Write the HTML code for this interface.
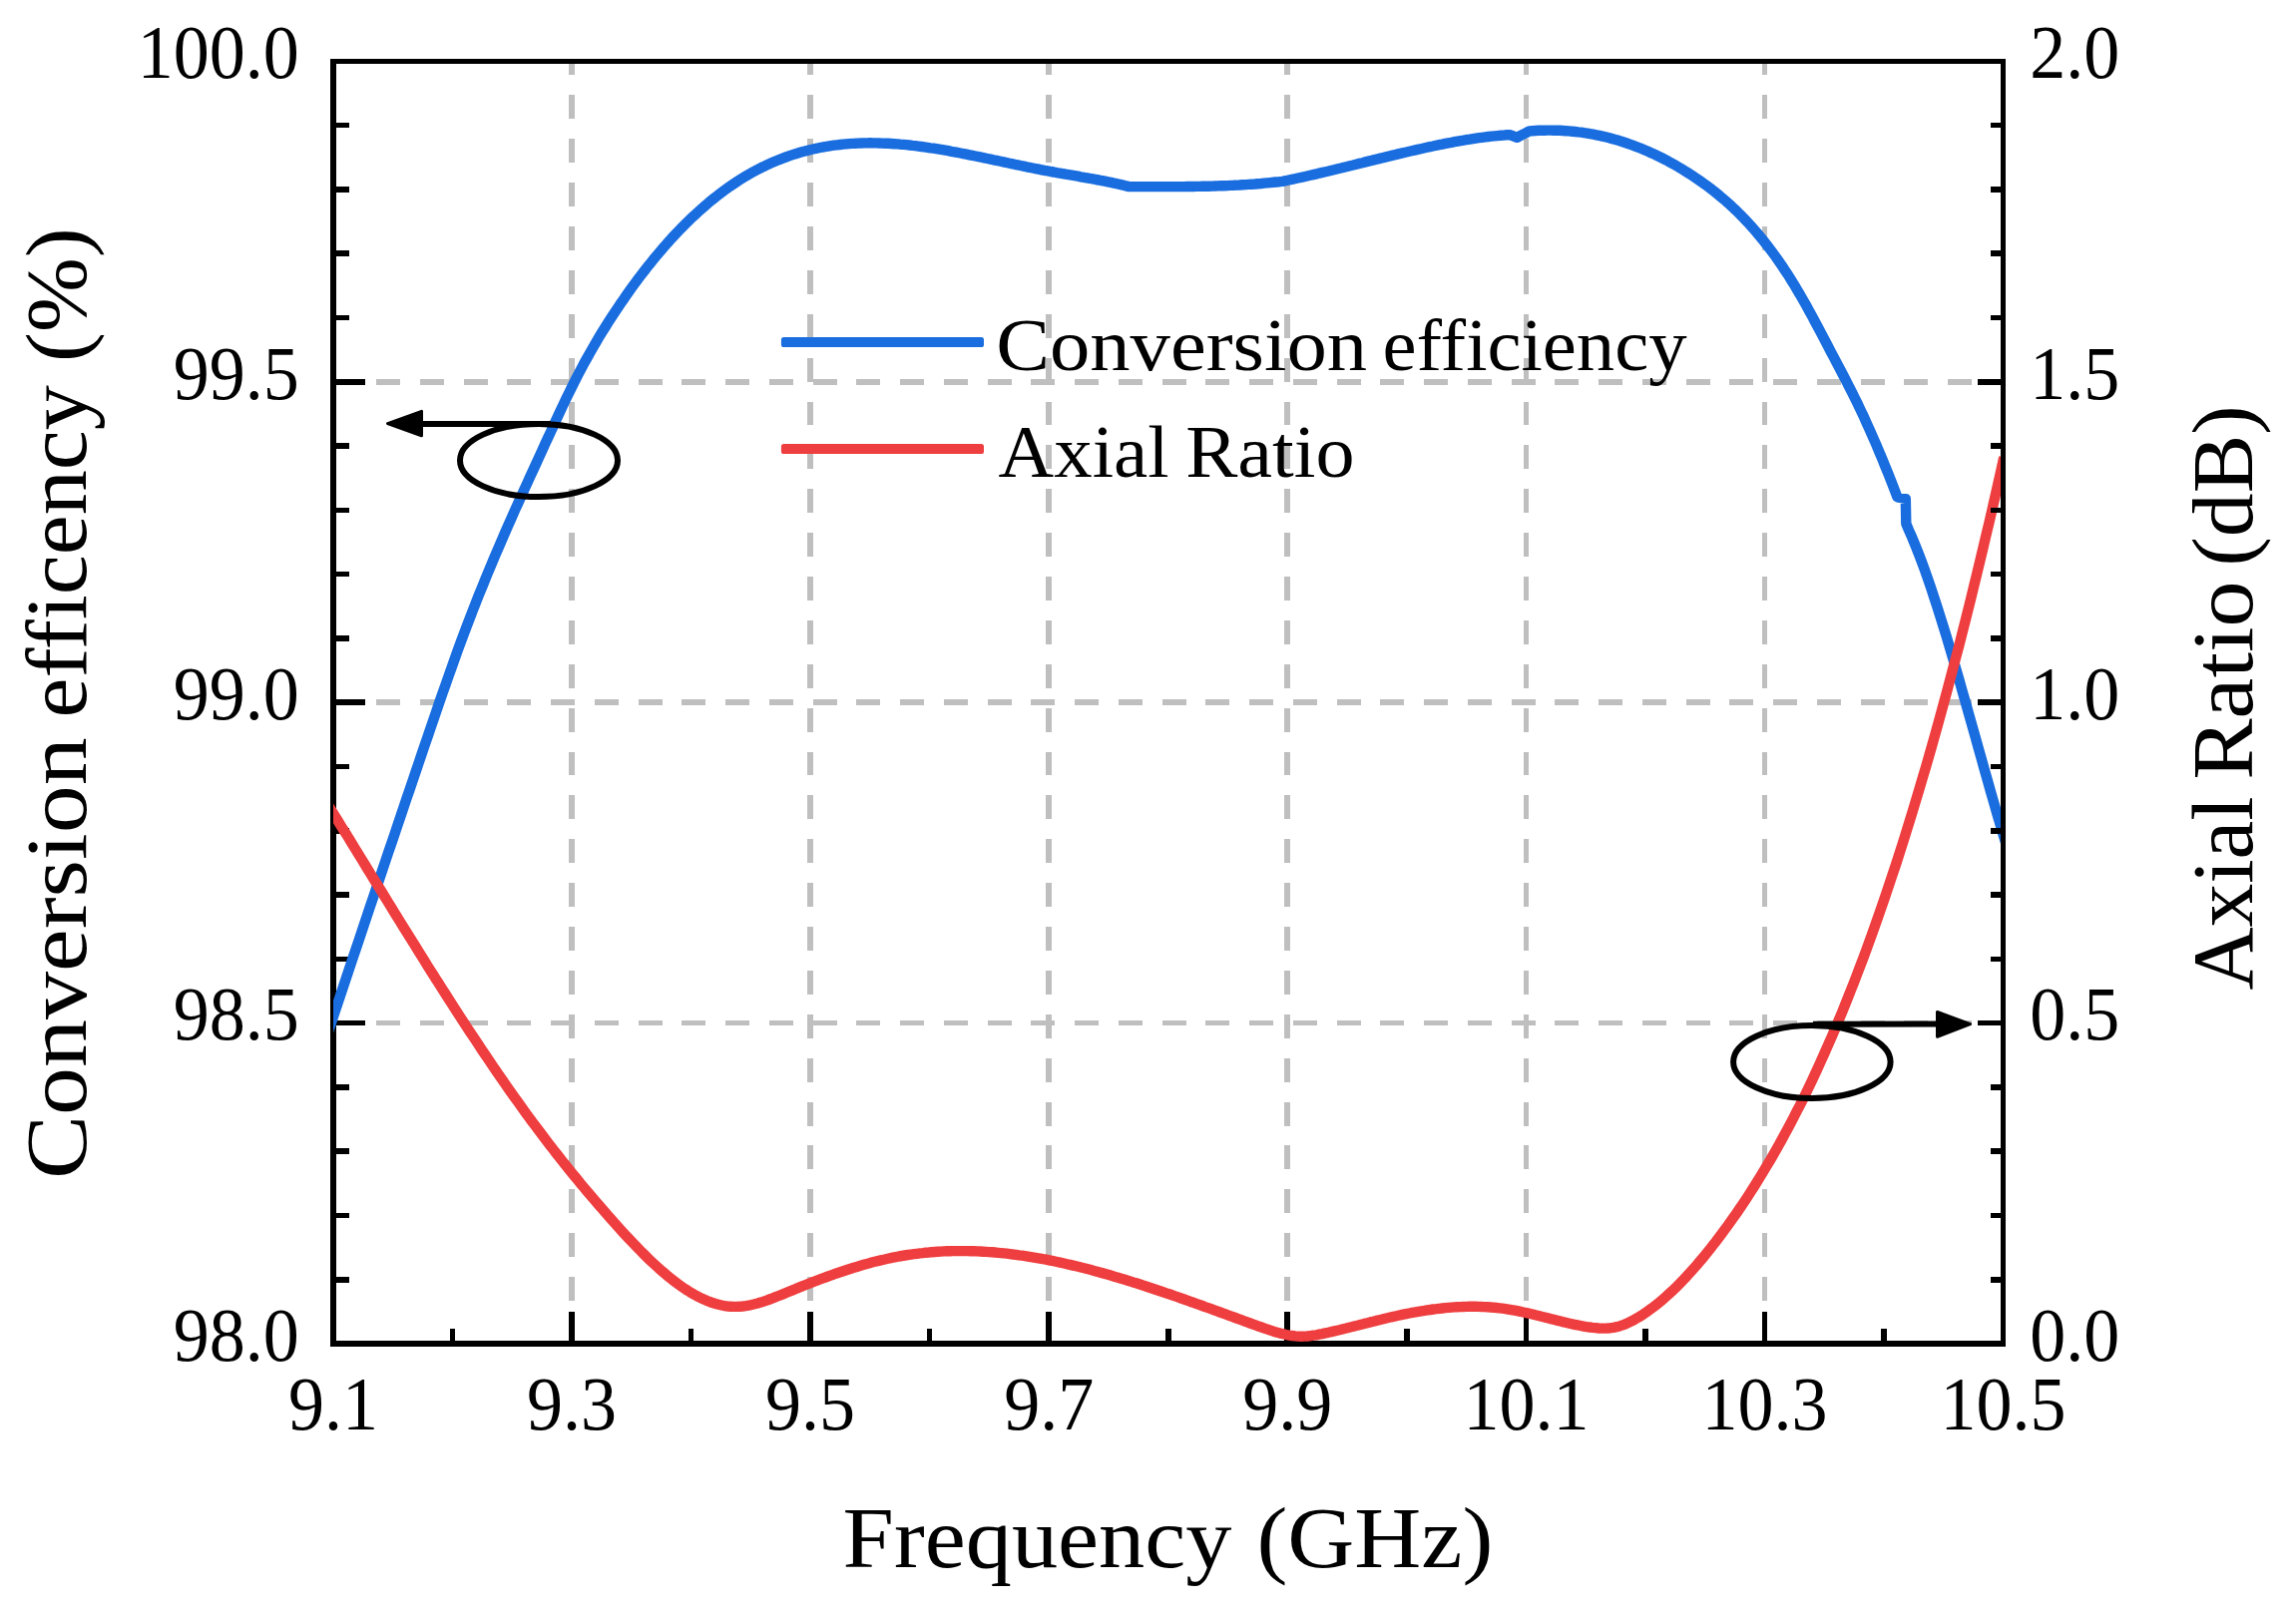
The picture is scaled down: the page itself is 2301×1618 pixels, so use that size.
<!DOCTYPE html>
<html lang="en"><head><meta charset="utf-8"><title>Conversion efficiency and Axial Ratio vs Frequency</title>
<style>html,body{margin:0;padding:0;background:#fff;}body{width:2301px;height:1618px;overflow:hidden;}svg{display:block;}</style>
</head><body>
<svg xmlns="http://www.w3.org/2000/svg" width="2301" height="1618" viewBox="0 0 2301 1618">
<rect width="2301" height="1618" fill="#fff"/>
<defs>
<clipPath id="cpB"><rect x="334.0" y="0" width="1671.0" height="1618"/></clipPath>
<clipPath id="cpR"><rect x="334.0" y="0" width="1671.2" height="1345.3"/></clipPath>
</defs>
<g stroke="#bfbfbf" stroke-width="5.6" fill="none" stroke-dasharray="23.9 19.98" shape-rendering="crispEdges">
<line x1="573.07" y1="1347.9" x2="573.07" y2="61.4"/>
<line x1="812.14" y1="1347.9" x2="812.14" y2="61.4"/>
<line x1="1051.21" y1="1347.9" x2="1051.21" y2="61.4"/>
<line x1="1290.29" y1="1347.9" x2="1290.29" y2="61.4"/>
<line x1="1529.36" y1="1347.9" x2="1529.36" y2="61.4"/>
<line x1="1768.43" y1="1347.9" x2="1768.43" y2="61.4"/>
<line x1="333.25" y1="1025.60" x2="1982" y2="1025.60" stroke-dasharray="24 19.75"/>
<line x1="333.25" y1="704.20" x2="1982" y2="704.20" stroke-dasharray="24 19.75"/>
<line x1="333.25" y1="382.80" x2="1982" y2="382.80" stroke-dasharray="24 19.75"/>
</g>
<g stroke="#000" stroke-width="5.6" fill="none" shape-rendering="crispEdges">
<path d="M334.0,1349.8 V58.800000000000004"/>
<path d="M331.0,61.4 H2010.3"/>
<path d="M331.0,1347.0 H2010.3"/>
<line x1="334.0" y1="1282.72" x2="350" y2="1282.72"/>
<line x1="334.0" y1="1218.44" x2="350" y2="1218.44"/>
<line x1="334.0" y1="1154.16" x2="350" y2="1154.16"/>
<line x1="334.0" y1="1089.88" x2="350" y2="1089.88"/>
<line x1="334.0" y1="1025.60" x2="366" y2="1025.60"/>
<line x1="334.0" y1="961.32" x2="350" y2="961.32"/>
<line x1="334.0" y1="897.04" x2="350" y2="897.04"/>
<line x1="334.0" y1="832.76" x2="350" y2="832.76"/>
<line x1="334.0" y1="768.48" x2="350" y2="768.48"/>
<line x1="334.0" y1="704.20" x2="366" y2="704.20"/>
<line x1="334.0" y1="639.92" x2="350" y2="639.92"/>
<line x1="334.0" y1="575.64" x2="350" y2="575.64"/>
<line x1="334.0" y1="511.36" x2="350" y2="511.36"/>
<line x1="334.0" y1="447.08" x2="350" y2="447.08"/>
<line x1="334.0" y1="382.80" x2="366" y2="382.80"/>
<line x1="334.0" y1="318.52" x2="350" y2="318.52"/>
<line x1="334.0" y1="254.24" x2="350" y2="254.24"/>
<line x1="334.0" y1="189.96" x2="350" y2="189.96"/>
<line x1="334.0" y1="125.68" x2="350" y2="125.68"/>
<line x1="453.54" y1="1347.0" x2="453.54" y2="1331.5"/>
<line x1="573.07" y1="1347.0" x2="573.07" y2="1315.2"/>
<line x1="692.61" y1="1347.0" x2="692.61" y2="1331.5"/>
<line x1="812.14" y1="1347.0" x2="812.14" y2="1315.2"/>
<line x1="931.68" y1="1347.0" x2="931.68" y2="1331.5"/>
<line x1="1051.21" y1="1347.0" x2="1051.21" y2="1315.2"/>
<line x1="1170.75" y1="1347.0" x2="1170.75" y2="1331.5"/>
<line x1="1290.29" y1="1347.0" x2="1290.29" y2="1315.2"/>
<line x1="1409.82" y1="1347.0" x2="1409.82" y2="1331.5"/>
<line x1="1529.36" y1="1347.0" x2="1529.36" y2="1315.2"/>
<line x1="1648.89" y1="1347.0" x2="1648.89" y2="1331.5"/>
<line x1="1768.43" y1="1347.0" x2="1768.43" y2="1315.2"/>
<line x1="1887.96" y1="1347.0" x2="1887.96" y2="1331.5"/>
</g>
<g fill="none" stroke-linejoin="round" stroke-linecap="butt" stroke-width="10.4">
<path clip-path="url(#cpB)" stroke="#196ddf" d="M329.0,1034.1 L332.0,1025.0 L335.0,1016.0 L338.1,1006.9 L341.1,997.9 L344.1,988.8 L347.1,979.8 L350.1,970.8 L353.1,961.8 L356.2,952.8 L359.2,943.8 L362.2,934.8 L365.2,925.8 L368.2,916.8 L371.2,907.8 L374.3,898.9 L377.3,889.9 L380.3,881.0 L383.3,872.0 L386.3,863.1 L389.3,854.1 L392.4,845.2 L395.4,836.3 L398.4,827.4 L401.4,818.5 L404.4,809.6 L407.4,800.7 L410.5,791.8 L413.5,782.9 L416.5,774.0 L419.5,765.1 L422.5,756.3 L425.5,747.4 L428.6,738.6 L431.6,729.7 L434.6,720.9 L437.6,712.1 L440.6,703.3 L443.6,694.6 L446.7,686.0 L449.7,677.4 L452.7,668.9 L455.7,660.4 L458.7,652.1 L461.7,643.9 L464.8,635.7 L467.8,627.7 L470.8,619.8 L473.8,612.0 L476.8,604.3 L479.8,596.7 L482.9,589.2 L485.9,581.8 L488.9,574.4 L491.9,567.2 L494.9,560.0 L497.9,552.9 L501.0,545.8 L504.0,538.9 L507.0,531.9 L510.0,525.1 L513.0,518.3 L516.0,511.5 L519.1,504.8 L522.1,498.1 L525.1,491.4 L528.1,484.8 L531.1,478.1 L534.2,471.5 L537.2,465.0 L540.2,458.4 L543.2,451.8 L546.2,445.2 L549.2,438.7 L552.3,432.1 L555.3,425.5 L558.3,419.0 L561.3,412.5 L564.3,406.1 L567.3,399.8 L570.4,393.5 L573.4,387.4 L576.4,381.4 L579.4,375.5 L582.4,369.8 L585.4,364.1 L588.5,358.6 L591.5,353.3 L594.5,348.0 L597.5,342.8 L600.5,337.7 L603.5,332.8 L606.6,327.9 L609.6,323.1 L612.6,318.4 L615.6,313.8 L618.6,309.3 L621.6,304.8 L624.7,300.4 L627.7,296.1 L630.7,291.8 L633.7,287.6 L636.7,283.5 L639.7,279.4 L642.8,275.4 L645.8,271.5 L648.8,267.6 L651.8,263.9 L654.8,260.1 L657.8,256.5 L660.9,252.9 L663.9,249.3 L666.9,245.9 L669.9,242.5 L672.9,239.1 L675.9,235.9 L679.0,232.7 L682.0,229.5 L685.0,226.5 L688.0,223.4 L691.0,220.5 L694.0,217.6 L697.1,214.8 L700.1,212.0 L703.1,209.3 L706.1,206.7 L709.1,204.1 L712.1,201.6 L715.2,199.1 L718.2,196.7 L721.2,194.4 L724.2,192.1 L727.2,189.9 L730.2,187.7 L733.3,185.6 L736.3,183.6 L739.3,181.6 L742.3,179.7 L745.3,177.8 L748.4,176.0 L751.4,174.3 L754.4,172.6 L757.4,170.9 L760.4,169.4 L763.4,167.8 L766.5,166.4 L769.5,164.9 L772.5,163.6 L775.5,162.3 L778.5,161.0 L781.5,159.8 L784.6,158.6 L787.6,157.5 L790.6,156.4 L793.6,155.4 L796.6,154.4 L799.6,153.5 L802.7,152.6 L805.7,151.8 L808.7,151.0 L811.7,150.2 L814.7,149.5 L817.7,148.9 L820.8,148.2 L823.8,147.7 L826.8,147.1 L829.8,146.6 L832.8,146.1 L835.8,145.7 L838.9,145.3 L841.9,145.0 L844.9,144.7 L847.9,144.4 L850.9,144.1 L853.9,143.9 L857.0,143.8 L860.0,143.6 L863.0,143.5 L866.0,143.4 L869.0,143.4 L872.0,143.3 L875.1,143.4 L878.1,143.4 L881.1,143.5 L884.1,143.6 L887.1,143.7 L890.1,143.8 L893.2,144.0 L896.2,144.2 L899.2,144.4 L902.2,144.7 L905.2,144.9 L908.2,145.2 L911.3,145.5 L914.3,145.9 L917.3,146.2 L920.3,146.6 L923.3,147.0 L926.3,147.4 L929.4,147.8 L932.4,148.3 L935.4,148.7 L938.4,149.2 L941.4,149.7 L944.5,150.2 L947.5,150.7 L950.5,151.2 L953.5,151.8 L956.5,152.3 L959.5,152.9 L962.6,153.5 L965.6,154.1 L968.6,154.7 L971.6,155.3 L974.6,155.9 L977.6,156.5 L980.7,157.1 L983.7,157.7 L986.7,158.4 L989.7,159.0 L992.7,159.6 L995.7,160.3 L998.8,160.9 L1001.8,161.5 L1004.8,162.2 L1007.8,162.8 L1010.8,163.5 L1013.8,164.1 L1016.9,164.8 L1019.9,165.4 L1022.9,166.0 L1025.9,166.6 L1028.9,167.3 L1031.9,167.9 L1035.0,168.5 L1038.0,169.1 L1041.0,169.7 L1044.0,170.3 L1047.0,170.9 L1050.0,171.4 L1053.1,172.0 L1056.1,172.5 L1059.1,173.1 L1062.1,173.6 L1065.1,174.1 L1068.1,174.7 L1071.2,175.2 L1074.2,175.7 L1077.2,176.2 L1080.2,176.7 L1083.2,177.3 L1086.2,177.8 L1089.3,178.3 L1092.3,178.9 L1095.3,179.4 L1098.3,180.0 L1101.3,180.5 L1104.3,181.1 L1107.4,181.7 L1110.4,182.3 L1113.4,182.9 L1116.4,183.6 L1119.4,184.2 L1122.4,184.9 L1125.5,185.6 L1128.5,186.4 L1131.5,187.1 L1131.5,187.1 L1134.6,187.1 L1137.7,187.1 L1140.7,187.1 L1143.8,187.1 L1146.9,187.1 L1150.0,187.1 L1153.0,187.1 L1156.1,187.1 L1159.2,187.1 L1162.3,187.1 L1165.3,187.1 L1168.4,187.1 L1171.5,187.1 L1174.6,187.1 L1177.6,187.1 L1180.7,187.1 L1183.8,187.1 L1186.9,187.1 L1189.9,187.0 L1193.0,187.0 L1196.1,187.0 L1199.2,186.9 L1202.2,186.9 L1205.3,186.8 L1208.4,186.7 L1211.5,186.7 L1214.6,186.6 L1217.6,186.5 L1220.7,186.4 L1223.8,186.3 L1226.9,186.2 L1229.9,186.1 L1233.0,185.9 L1236.1,185.8 L1239.2,185.6 L1242.2,185.5 L1245.3,185.3 L1248.4,185.1 L1251.5,184.9 L1254.5,184.7 L1257.6,184.5 L1260.7,184.2 L1263.8,184.0 L1266.8,183.7 L1269.9,183.4 L1273.0,183.1 L1276.1,182.8 L1279.1,182.5 L1282.2,182.2 L1285.3,181.8 L1285.3,181.8 L1288.4,181.2 L1291.5,180.5 L1294.5,179.9 L1297.6,179.2 L1300.7,178.5 L1303.8,177.9 L1306.8,177.2 L1309.9,176.5 L1313.0,175.8 L1316.1,175.1 L1319.2,174.4 L1322.2,173.6 L1325.3,172.9 L1328.4,172.2 L1331.5,171.5 L1334.6,170.7 L1337.6,170.0 L1340.7,169.2 L1343.8,168.5 L1346.9,167.7 L1349.9,167.0 L1353.0,166.2 L1356.1,165.5 L1359.2,164.7 L1362.3,163.9 L1365.3,163.2 L1368.4,162.4 L1371.5,161.6 L1374.6,160.9 L1377.7,160.1 L1380.7,159.4 L1383.8,158.6 L1386.9,157.9 L1390.0,157.1 L1393.0,156.4 L1396.1,155.6 L1399.2,154.9 L1402.3,154.1 L1405.4,153.4 L1408.4,152.7 L1411.5,152.0 L1414.6,151.3 L1417.7,150.6 L1420.7,149.9 L1423.8,149.2 L1426.9,148.5 L1430.0,147.8 L1433.1,147.1 L1436.1,146.5 L1439.2,145.8 L1442.3,145.2 L1445.4,144.6 L1448.5,143.9 L1451.5,143.3 L1454.6,142.8 L1457.7,142.2 L1460.8,141.6 L1463.8,141.1 L1466.9,140.6 L1470.0,140.0 L1473.1,139.6 L1476.2,139.1 L1479.2,138.6 L1482.3,138.2 L1485.4,137.8 L1488.5,137.4 L1491.6,137.0 L1494.6,136.7 L1497.7,136.4 L1500.8,136.1 L1503.9,135.8 L1506.9,135.6 L1510.0,135.3 L1513.1,135.1 L1513.1,135.2 L1520.3,137.9 L1520.3,137.9 L1524.4,135.7 L1528.6,133.6 L1532.7,131.4 L1532.7,131.4 L1535.7,131.2 L1538.8,131.0 L1541.8,130.8 L1544.9,130.7 L1547.9,130.7 L1551.0,130.6 L1554.0,130.6 L1557.1,130.7 L1560.1,130.7 L1563.2,130.8 L1566.2,131.0 L1569.3,131.2 L1572.3,131.4 L1575.4,131.7 L1578.4,132.0 L1581.5,132.4 L1584.5,132.7 L1587.6,133.2 L1590.6,133.6 L1593.7,134.2 L1596.7,134.7 L1599.8,135.3 L1602.8,135.9 L1605.9,136.6 L1608.9,137.3 L1611.9,138.1 L1615.0,138.9 L1618.0,139.7 L1621.1,140.6 L1624.1,141.5 L1627.2,142.5 L1630.2,143.5 L1633.3,144.6 L1636.3,145.7 L1639.4,146.8 L1642.4,148.0 L1645.5,149.2 L1648.5,150.5 L1651.6,151.8 L1654.6,153.2 L1657.7,154.6 L1660.7,156.0 L1663.8,157.5 L1666.8,159.0 L1669.9,160.6 L1672.9,162.3 L1676.0,163.9 L1679.0,165.6 L1682.0,167.4 L1685.1,169.2 L1688.1,171.1 L1691.2,173.0 L1694.2,174.9 L1697.3,176.9 L1700.3,179.0 L1703.4,181.1 L1706.4,183.2 L1709.5,185.4 L1712.5,187.7 L1715.6,190.0 L1718.6,192.4 L1721.7,194.9 L1724.7,197.4 L1727.8,200.0 L1730.8,202.7 L1733.9,205.4 L1736.9,208.2 L1740.0,211.1 L1743.0,214.1 L1746.1,217.2 L1749.1,220.4 L1752.2,223.6 L1755.2,227.0 L1758.2,230.4 L1761.3,234.0 L1764.3,237.6 L1767.4,241.4 L1770.4,245.2 L1773.5,249.2 L1776.5,253.3 L1779.6,257.5 L1782.6,261.8 L1785.7,266.2 L1788.7,270.8 L1791.8,275.4 L1794.8,280.3 L1797.9,285.2 L1800.9,290.3 L1804.0,295.5 L1807.0,300.8 L1810.1,306.2 L1813.1,311.7 L1816.2,317.3 L1819.2,323.0 L1822.3,328.7 L1825.3,334.4 L1828.3,340.2 L1831.4,346.0 L1834.4,351.8 L1837.5,357.6 L1840.5,363.4 L1843.6,369.2 L1846.6,375.0 L1849.7,380.9 L1852.7,386.8 L1855.8,392.9 L1858.8,399.0 L1861.9,405.2 L1864.9,411.6 L1868.0,418.1 L1871.0,424.8 L1874.1,431.6 L1877.1,438.5 L1880.2,445.5 L1883.2,452.7 L1886.3,460.0 L1889.3,467.5 L1892.4,475.0 L1895.4,482.7 L1898.5,490.6 L1901.5,498.5 L1909.8,500.0 L1910.3,525.0 L1913.0,531.5 L1916.2,538.7 L1919.3,546.2 L1922.5,554.2 L1925.6,562.4 L1928.8,571.0 L1931.9,579.9 L1935.1,589.1 L1938.2,598.6 L1941.4,608.3 L1944.5,618.3 L1947.7,628.4 L1950.9,638.8 L1954.0,649.3 L1957.2,660.0 L1960.3,670.8 L1963.5,681.8 L1966.6,692.8 L1969.8,704.0 L1972.9,715.2 L1976.1,726.4 L1979.3,737.6 L1982.4,748.9 L1985.6,760.1 L1988.7,771.4 L1991.9,782.5 L1995.0,793.6 L1998.2,804.6 L2001.3,815.5 L2004.5,826.2 L2007.6,836.8 L2010.8,847.3"/>
<path clip-path="url(#cpR)" stroke="#ef3e3f" d="M329.0,807.2 L332.0,812.1 L335.0,816.9 L338.0,821.8 L341.0,826.7 L344.0,831.6 L347.1,836.4 L350.1,841.3 L353.1,846.2 L356.1,851.1 L359.1,856.0 L362.1,860.9 L365.1,865.8 L368.1,870.7 L371.1,875.6 L374.1,880.5 L377.2,885.4 L380.2,890.3 L383.2,895.1 L386.2,900.0 L389.2,904.9 L392.2,909.8 L395.2,914.7 L398.2,919.5 L401.2,924.4 L404.2,929.3 L407.2,934.1 L410.3,939.0 L413.3,943.8 L416.3,948.6 L419.3,953.5 L422.3,958.3 L425.3,963.1 L428.3,967.9 L431.3,972.7 L434.3,977.4 L437.3,982.2 L440.4,986.9 L443.4,991.7 L446.4,996.4 L449.4,1001.1 L452.4,1005.8 L455.4,1010.5 L458.4,1015.1 L461.4,1019.8 L464.4,1024.4 L467.4,1029.0 L470.4,1033.6 L473.5,1038.2 L476.5,1042.7 L479.5,1047.2 L482.5,1051.8 L485.5,1056.2 L488.5,1060.7 L491.5,1065.2 L494.5,1069.6 L497.5,1074.0 L500.5,1078.4 L503.6,1082.7 L506.6,1087.1 L509.6,1091.4 L512.6,1095.7 L515.6,1099.9 L518.6,1104.1 L521.6,1108.3 L524.6,1112.5 L527.6,1116.7 L530.6,1120.8 L533.6,1124.9 L536.7,1128.9 L539.7,1132.9 L542.7,1136.9 L545.7,1140.9 L548.7,1144.8 L551.7,1148.8 L554.7,1152.6 L557.7,1156.5 L560.7,1160.3 L563.7,1164.1 L566.8,1167.9 L569.8,1171.7 L572.8,1175.4 L575.8,1179.1 L578.8,1182.7 L581.8,1186.4 L584.8,1190.0 L587.8,1193.6 L590.8,1197.2 L593.8,1200.7 L596.8,1204.2 L599.9,1207.7 L602.9,1211.2 L605.9,1214.7 L608.9,1218.1 L611.9,1221.5 L614.9,1224.9 L617.9,1228.2 L620.9,1231.6 L623.9,1234.9 L626.9,1238.2 L629.9,1241.4 L633.0,1244.6 L636.0,1247.8 L639.0,1250.9 L642.0,1254.0 L645.0,1257.0 L648.0,1260.0 L651.0,1262.9 L654.0,1265.7 L657.0,1268.5 L660.0,1271.3 L663.1,1273.9 L666.1,1276.5 L669.1,1279.1 L672.1,1281.5 L675.1,1283.9 L678.1,1286.2 L681.1,1288.4 L684.1,1290.5 L687.1,1292.5 L690.1,1294.4 L693.1,1296.2 L696.2,1298.0 L699.2,1299.6 L702.2,1301.1 L705.2,1302.5 L708.2,1303.8 L711.2,1305.0 L714.2,1306.1 L717.2,1307.0 L720.2,1307.8 L723.2,1308.5 L726.3,1309.1 L729.3,1309.5 L732.3,1309.8 L735.3,1309.9 L738.3,1309.9 L741.3,1309.8 L744.3,1309.5 L747.3,1309.1 L750.3,1308.6 L753.3,1308.0 L756.3,1307.3 L759.4,1306.5 L762.4,1305.6 L765.4,1304.6 L768.4,1303.6 L771.4,1302.5 L774.4,1301.4 L777.4,1300.2 L780.4,1299.0 L783.4,1297.8 L786.4,1296.6 L789.5,1295.3 L792.5,1294.1 L795.5,1292.9 L798.5,1291.6 L801.5,1290.4 L804.5,1289.2 L807.5,1288.0 L810.5,1286.8 L813.5,1285.7 L816.5,1284.5 L819.5,1283.3 L822.6,1282.2 L825.6,1281.1 L828.6,1280.0 L831.6,1278.9 L834.6,1277.8 L837.6,1276.7 L840.6,1275.7 L843.6,1274.7 L846.6,1273.7 L849.6,1272.7 L852.7,1271.7 L855.7,1270.8 L858.7,1269.9 L861.7,1269.0 L864.7,1268.1 L867.7,1267.2 L870.7,1266.4 L873.7,1265.6 L876.7,1264.8 L879.7,1264.1 L882.7,1263.4 L885.8,1262.7 L888.8,1262.0 L891.8,1261.3 L894.8,1260.7 L897.8,1260.1 L900.8,1259.5 L903.8,1259.0 L906.8,1258.5 L909.8,1258.0 L912.8,1257.6 L915.9,1257.2 L918.9,1256.8 L921.9,1256.4 L924.9,1256.1 L927.9,1255.7 L930.9,1255.5 L933.9,1255.2 L936.9,1255.0 L939.9,1254.8 L942.9,1254.6 L945.9,1254.4 L949.0,1254.3 L952.0,1254.2 L955.0,1254.1 L958.0,1254.1 L961.0,1254.1 L964.0,1254.1 L967.0,1254.1 L970.0,1254.1 L973.0,1254.2 L976.0,1254.3 L979.1,1254.4 L982.1,1254.5 L985.1,1254.7 L988.1,1254.9 L991.1,1255.1 L994.1,1255.3 L997.1,1255.5 L1000.1,1255.8 L1003.1,1256.1 L1006.1,1256.4 L1009.1,1256.7 L1012.2,1257.1 L1015.2,1257.5 L1018.2,1257.8 L1021.2,1258.3 L1024.2,1258.7 L1027.2,1259.1 L1030.2,1259.6 L1033.2,1260.1 L1036.2,1260.6 L1039.2,1261.1 L1042.3,1261.6 L1045.3,1262.2 L1048.3,1262.7 L1051.3,1263.3 L1054.3,1263.9 L1057.3,1264.5 L1060.3,1265.2 L1063.3,1265.8 L1066.3,1266.5 L1069.3,1267.2 L1072.3,1267.9 L1075.4,1268.6 L1078.4,1269.3 L1081.4,1270.0 L1084.4,1270.8 L1087.4,1271.5 L1090.4,1272.3 L1093.4,1273.1 L1096.4,1273.9 L1099.4,1274.7 L1102.4,1275.6 L1105.5,1276.4 L1108.5,1277.2 L1111.5,1278.1 L1114.5,1279.0 L1117.5,1279.9 L1120.5,1280.8 L1123.5,1281.7 L1126.5,1282.6 L1129.5,1283.5 L1132.5,1284.4 L1135.5,1285.4 L1138.6,1286.3 L1141.6,1287.3 L1144.6,1288.3 L1147.6,1289.2 L1150.6,1290.2 L1153.6,1291.2 L1156.6,1292.2 L1159.6,1293.2 L1162.6,1294.2 L1165.6,1295.2 L1168.7,1296.3 L1171.7,1297.3 L1174.7,1298.3 L1177.7,1299.4 L1180.7,1300.4 L1183.7,1301.5 L1186.7,1302.5 L1189.7,1303.6 L1192.7,1304.7 L1195.7,1305.7 L1198.7,1306.8 L1201.8,1307.9 L1204.8,1309.0 L1207.8,1310.1 L1210.8,1311.1 L1213.8,1312.2 L1216.8,1313.3 L1219.8,1314.4 L1222.8,1315.5 L1225.8,1316.6 L1228.8,1317.7 L1231.8,1318.8 L1234.9,1319.9 L1237.9,1321.0 L1240.9,1322.1 L1243.9,1323.2 L1246.9,1324.3 L1249.9,1325.4 L1252.9,1326.5 L1255.9,1327.6 L1258.9,1328.7 L1261.9,1329.8 L1265.0,1330.8 L1268.0,1331.9 L1271.0,1332.9 L1274.0,1333.9 L1277.0,1334.9 L1280.0,1335.8 L1283.0,1336.6 L1286.0,1337.3 L1289.0,1338.0 L1292.0,1338.6 L1295.0,1339.0 L1298.1,1339.4 L1301.1,1339.6 L1304.1,1339.7 L1307.1,1339.6 L1310.1,1339.5 L1313.1,1339.1 L1316.1,1338.7 L1319.1,1338.3 L1322.1,1337.7 L1325.1,1337.1 L1328.2,1336.4 L1331.2,1335.8 L1334.2,1335.1 L1337.2,1334.4 L1340.2,1333.7 L1343.2,1333.0 L1346.2,1332.2 L1349.2,1331.5 L1352.2,1330.7 L1355.2,1330.0 L1358.2,1329.2 L1361.3,1328.5 L1364.3,1327.7 L1367.3,1326.9 L1370.3,1326.2 L1373.3,1325.4 L1376.3,1324.7 L1379.3,1323.9 L1382.3,1323.2 L1385.3,1322.5 L1388.3,1321.7 L1391.4,1321.0 L1394.4,1320.3 L1397.4,1319.7 L1400.4,1319.0 L1403.4,1318.3 L1406.4,1317.7 L1409.4,1317.1 L1412.4,1316.5 L1415.4,1315.9 L1418.4,1315.4 L1421.4,1314.8 L1424.5,1314.3 L1427.5,1313.9 L1430.5,1313.4 L1433.5,1313.0 L1436.5,1312.5 L1439.5,1312.2 L1442.5,1311.8 L1445.5,1311.5 L1448.5,1311.2 L1451.5,1310.9 L1454.6,1310.6 L1457.6,1310.4 L1460.6,1310.2 L1463.6,1310.1 L1466.6,1310.0 L1469.6,1309.9 L1472.6,1309.8 L1475.6,1309.8 L1478.6,1309.8 L1481.6,1309.9 L1484.6,1310.0 L1487.7,1310.1 L1490.7,1310.3 L1493.7,1310.5 L1496.7,1310.7 L1499.7,1311.0 L1502.7,1311.3 L1505.7,1311.7 L1508.7,1312.1 L1511.7,1312.6 L1514.7,1313.1 L1517.8,1313.6 L1520.8,1314.2 L1523.8,1314.8 L1526.8,1315.5 L1529.8,1316.1 L1532.8,1316.8 L1535.8,1317.5 L1538.8,1318.3 L1541.8,1319.0 L1544.8,1319.8 L1547.8,1320.5 L1550.9,1321.3 L1553.9,1322.1 L1556.9,1322.8 L1559.9,1323.6 L1562.9,1324.3 L1565.9,1325.1 L1568.9,1325.8 L1571.9,1326.5 L1574.9,1327.2 L1577.9,1327.8 L1581.0,1328.4 L1584.0,1329.0 L1587.0,1329.6 L1590.0,1330.1 L1593.0,1330.5 L1596.0,1330.9 L1599.0,1331.2 L1602.0,1331.5 L1605.0,1331.6 L1608.0,1331.6 L1611.0,1331.5 L1614.1,1331.2 L1617.1,1330.8 L1620.1,1330.2 L1623.1,1329.4 L1626.1,1328.4 L1629.1,1327.3 L1632.1,1325.9 L1635.1,1324.4 L1638.1,1322.8 L1641.1,1321.1 L1644.2,1319.2 L1647.2,1317.3 L1650.2,1315.2 L1653.2,1313.1 L1656.2,1310.9 L1659.2,1308.6 L1662.2,1306.2 L1665.2,1303.7 L1668.2,1301.1 L1671.2,1298.4 L1674.2,1295.6 L1677.3,1292.8 L1680.3,1289.9 L1683.3,1286.8 L1686.3,1283.8 L1689.3,1280.6 L1692.3,1277.3 L1695.3,1274.0 L1698.3,1270.6 L1701.3,1267.2 L1704.3,1263.6 L1707.4,1260.0 L1710.4,1256.3 L1713.4,1252.6 L1716.4,1248.7 L1719.4,1244.9 L1722.4,1240.9 L1725.4,1236.9 L1728.4,1232.8 L1731.4,1228.7 L1734.4,1224.5 L1737.4,1220.3 L1740.5,1215.9 L1743.5,1211.5 L1746.5,1207.1 L1749.5,1202.6 L1752.5,1198.0 L1755.5,1193.3 L1758.5,1188.6 L1761.5,1183.8 L1764.5,1178.9 L1767.5,1173.9 L1770.5,1168.9 L1773.6,1163.8 L1776.6,1158.6 L1779.6,1153.4 L1782.6,1148.0 L1785.6,1142.6 L1788.6,1137.1 L1791.6,1131.5 L1794.6,1125.8 L1797.6,1120.1 L1800.6,1114.2 L1803.7,1108.3 L1806.7,1102.3 L1809.7,1096.2 L1812.7,1090.0 L1815.7,1083.7 L1818.7,1077.3 L1821.7,1070.8 L1824.7,1064.2 L1827.7,1057.5 L1830.7,1050.7 L1833.7,1043.9 L1836.8,1036.9 L1839.8,1029.8 L1842.8,1022.6 L1845.8,1015.4 L1848.8,1008.0 L1851.8,1000.5 L1854.8,992.9 L1857.8,985.3 L1860.8,977.5 L1863.8,969.6 L1866.9,961.6 L1869.9,953.5 L1872.9,945.3 L1875.9,937.0 L1878.9,928.6 L1881.9,920.1 L1884.9,911.4 L1887.9,902.7 L1890.9,893.9 L1893.9,884.9 L1896.9,875.8 L1900.0,866.7 L1903.0,857.4 L1906.0,848.0 L1909.0,838.5 L1912.0,828.8 L1915.0,819.1 L1918.0,809.3 L1921.0,799.3 L1924.0,789.2 L1927.0,779.0 L1930.1,768.7 L1933.1,758.3 L1936.1,747.8 L1939.1,737.1 L1942.1,726.3 L1945.1,715.4 L1948.1,704.4 L1951.1,693.3 L1954.1,682.0 L1957.1,670.7 L1960.1,659.2 L1963.2,647.6 L1966.2,635.8 L1969.2,624.0 L1972.2,612.0 L1975.2,599.9 L1978.2,587.6 L1981.2,575.3 L1984.2,562.8 L1987.2,550.2 L1990.2,537.4 L1993.3,524.6 L1996.3,511.6 L1999.3,498.5 L2002.3,485.2 L2005.3,471.8 L2008.3,458.3"/>
</g>
<g stroke="#000" stroke-width="5.6" fill="none" shape-rendering="crispEdges">
<path d="M2007.5,1349.8 V58.800000000000004" stroke-width="5.2"/>
<line x1="2007.5" y1="1282.72" x2="1995" y2="1282.72"/>
<line x1="2007.5" y1="1218.44" x2="1995" y2="1218.44"/>
<line x1="2007.5" y1="1154.16" x2="1995" y2="1154.16"/>
<line x1="2007.5" y1="1089.88" x2="1995" y2="1089.88"/>
<line x1="2007.5" y1="1025.60" x2="1982" y2="1025.60"/>
<line x1="2007.5" y1="961.32" x2="1995" y2="961.32"/>
<line x1="2007.5" y1="897.04" x2="1995" y2="897.04"/>
<line x1="2007.5" y1="832.76" x2="1995" y2="832.76"/>
<line x1="2007.5" y1="768.48" x2="1995" y2="768.48"/>
<line x1="2007.5" y1="704.20" x2="1982" y2="704.20"/>
<line x1="2007.5" y1="639.92" x2="1995" y2="639.92"/>
<line x1="2007.5" y1="575.64" x2="1995" y2="575.64"/>
<line x1="2007.5" y1="511.36" x2="1995" y2="511.36"/>
<line x1="2007.5" y1="447.08" x2="1995" y2="447.08"/>
<line x1="2007.5" y1="382.80" x2="1982" y2="382.80"/>
<line x1="2007.5" y1="318.52" x2="1995" y2="318.52"/>
<line x1="2007.5" y1="254.24" x2="1995" y2="254.24"/>
<line x1="2007.5" y1="189.96" x2="1995" y2="189.96"/>
<line x1="2007.5" y1="125.68" x2="1995" y2="125.68"/>
</g>
<rect x="782.9" y="337.9" width="203.1" height="10.1" rx="2.6" fill="#196ddf"/>
<rect x="782.9" y="444.9" width="203.1" height="10.1" rx="2.6" fill="#ef3e3f"/>
<g stroke="#000" stroke-width="6" fill="none">
<ellipse cx="540" cy="461.5" rx="79" ry="36.6"/>
<ellipse cx="1815.85" cy="1064.5" rx="78.75" ry="36.5"/>
<line x1="420" y1="425" x2="552" y2="425"/>
<line x1="1817" y1="1026.8" x2="1944" y2="1026.6"/>
</g>
<g fill="#000" stroke="#000" stroke-width="3" stroke-linejoin="round">
<path d="M388.5,424.6 L422.5,412.3 L422.5,436.8 Z"/>
<path d="M1974.5,1026.6 L1941.5,1014.5 L1941.5,1039.3 Z"/>
</g>
<g font-family='"Liberation Serif", serif' fill="#000">
<text x="173.7" y="1363.8" font-size="76.5" textLength="126.0" lengthAdjust="spacingAndGlyphs">98.0</text>
<text x="173.7" y="1042.4" font-size="76.5" textLength="126.0" lengthAdjust="spacingAndGlyphs">98.5</text>
<text x="173.7" y="721.0" font-size="76.5" textLength="126.0" lengthAdjust="spacingAndGlyphs">99.0</text>
<text x="173.7" y="399.6" font-size="76.5" textLength="126.0" lengthAdjust="spacingAndGlyphs">99.5</text>
<text x="137.7" y="78.2" font-size="76.5" textLength="162.0" lengthAdjust="spacingAndGlyphs">100.0</text>
<text x="2034.3" y="1363.8" font-size="76.5" textLength="90.0" lengthAdjust="spacingAndGlyphs">0.0</text>
<text x="2034.3" y="1042.4" font-size="76.5" textLength="90.0" lengthAdjust="spacingAndGlyphs">0.5</text>
<text x="2034.3" y="721.0" font-size="76.5" textLength="90.0" lengthAdjust="spacingAndGlyphs">1.0</text>
<text x="2034.3" y="399.6" font-size="76.5" textLength="90.0" lengthAdjust="spacingAndGlyphs">1.5</text>
<text x="2034.3" y="78.2" font-size="76.5" textLength="90.0" lengthAdjust="spacingAndGlyphs">2.0</text>
<text x="289.0" y="1433.0" font-size="76.5" textLength="90.0" lengthAdjust="spacingAndGlyphs">9.1</text>
<text x="528.1" y="1433.0" font-size="76.5" textLength="90.0" lengthAdjust="spacingAndGlyphs">9.3</text>
<text x="767.1" y="1433.0" font-size="76.5" textLength="90.0" lengthAdjust="spacingAndGlyphs">9.5</text>
<text x="1006.2" y="1433.0" font-size="76.5" textLength="90.0" lengthAdjust="spacingAndGlyphs">9.7</text>
<text x="1245.3" y="1433.0" font-size="76.5" textLength="90.0" lengthAdjust="spacingAndGlyphs">9.9</text>
<text x="1466.4" y="1433.0" font-size="76.5" textLength="126.0" lengthAdjust="spacingAndGlyphs">10.1</text>
<text x="1705.4" y="1433.0" font-size="76.5" textLength="126.0" lengthAdjust="spacingAndGlyphs">10.3</text>
<text x="1944.5" y="1433.0" font-size="76.5" textLength="126.0" lengthAdjust="spacingAndGlyphs">10.5</text>
<text x="844.60" y="1570.8" font-size="87" textLength="389.82" lengthAdjust="spacingAndGlyphs">Frequency</text>
<text x="1259.40" y="1570.8" font-size="87" textLength="237.08" lengthAdjust="spacingAndGlyphs">(GHz)</text>
<text transform="translate(86.0,1182.00) rotate(-90)" font-size="87" textLength="442.67" lengthAdjust="spacingAndGlyphs">Conversion</text>
<text transform="translate(86.0,719.60) rotate(-90)" font-size="87" textLength="333.44" lengthAdjust="spacingAndGlyphs">efficency</text>
<text transform="translate(86.0,363.00) rotate(-90)" font-size="87" textLength="134.69" lengthAdjust="spacingAndGlyphs">(%)</text>
<text transform="translate(2257.0,992.60) rotate(-90)" font-size="87" textLength="194.22" lengthAdjust="spacingAndGlyphs">Axial</text>
<text transform="translate(2257.0,781.80) rotate(-90)" font-size="87" textLength="199.37" lengthAdjust="spacingAndGlyphs">Ratio</text>
<text transform="translate(2257.0,567.40) rotate(-90)" font-size="87" textLength="160.91" lengthAdjust="spacingAndGlyphs">(dB)</text>
<text x="998.20" y="370.5" font-size="75" textLength="371.85" lengthAdjust="spacingAndGlyphs">Conversion</text>
<text x="1385.40" y="370.5" font-size="75" textLength="305.22" lengthAdjust="spacingAndGlyphs">efficiency</text>
<text x="1000.60" y="477.6" font-size="75" textLength="171.04" lengthAdjust="spacingAndGlyphs">Axial</text>
<text x="1188.20" y="477.6" font-size="75" textLength="169.37" lengthAdjust="spacingAndGlyphs">Ratio</text>
</g>
</svg>
</body></html>
